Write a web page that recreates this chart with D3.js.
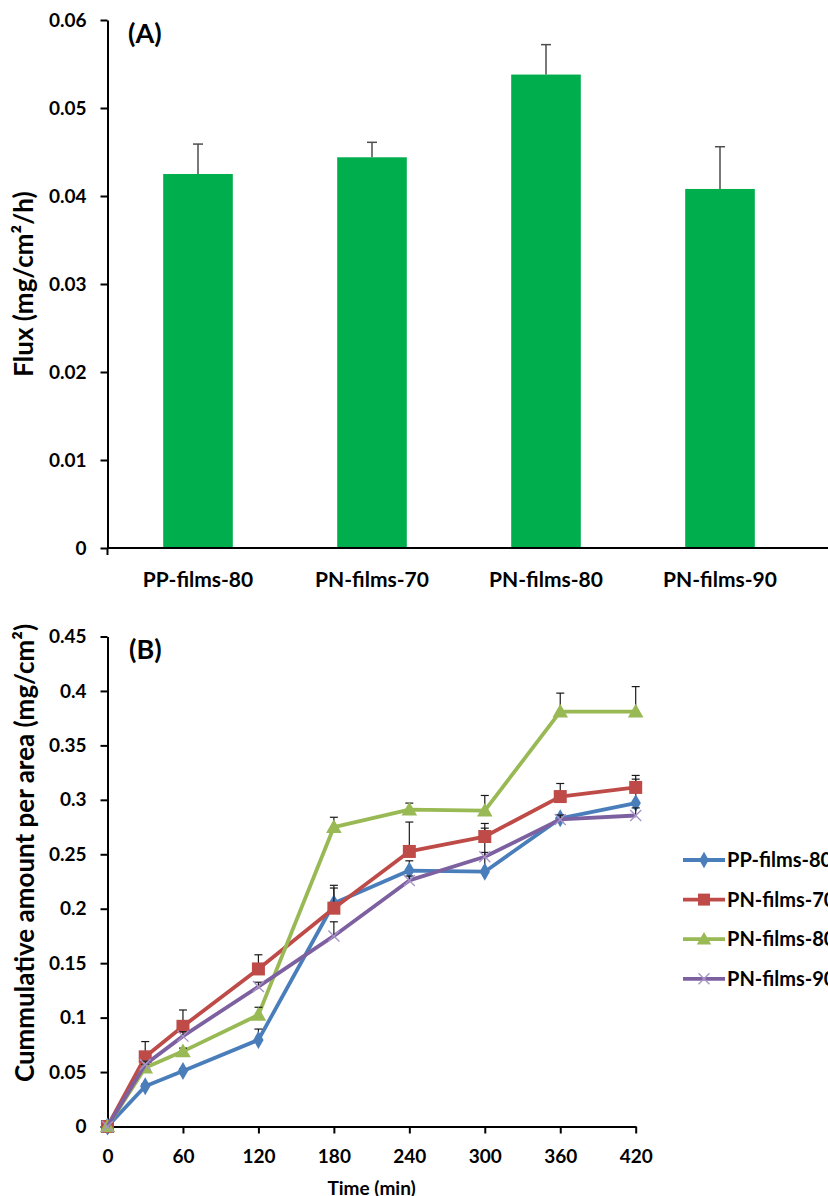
<!DOCTYPE html>
<html>
<head>
<meta charset="utf-8">
<script src="https://cdn.jsdelivr.net/npm/d3@7"></script>
<style>
  body { margin: 0; background: #fff; }
  svg { display: block; font-family: Lato, "Open Sans", sans-serif; font-weight: bold; }
</style>
</head>
<body>
<svg id="chart" width="828" height="1196"></svg>
<script>
// (A) flux bars
const FILMS = ["PP-films-80", "PN-films-70", "PN-films-80", "PN-films-90"]
const FLUX = [0.0425, 0.0444, 0.0538, 0.0408]
const FLUX_ERR = [0.0034, 0.0017, 0.0034, 0.0048]
const FLUX_TICKS = [0, 0.01, 0.02, 0.03, 0.04, 0.05, 0.06]

// (B) cumulative release
const TIMES = [0, 30, 60, 120, 180, 240, 300, 360, 420]
const TIME_TICKS = [0, 60, 120, 180, 240, 300, 360, 420]
const AMOUNT_TICKS = [0, 0.05, 0.1, 0.15, 0.2, 0.25, 0.3, 0.35, 0.4, 0.45]
const SERIES_NAMES = ["PP-films-80", "PN-films-70", "PN-films-80", "PN-films-90"]
const PP80 = [0, 0.037, 0.051, 0.0795, 0.205, 0.235, 0.234, 0.283, 0.297]
const PN70 = [0, 0.064, 0.092, 0.1447, 0.2005, 0.2526, 0.2663, 0.303, 0.3114]
const PN80 = [0, 0.054, 0.069, 0.1025, 0.275, 0.291, 0.290, 0.381, 0.381]
const PN90 = [0, 0.057, 0.083, 0.1285, 0.175, 0.226, 0.2477, 0.282, 0.2856]
const PP80_ERR = [0, 0.002, 0.002, 0.010, 0.014, 0.009, 0.040, 0.003, 0.022]
const PN70_ERR = [0, 0.014, 0.015, 0.013, 0.021, 0.027, 0.012, 0.012, 0.011]
const PN80_ERR = [0, 0.003, 0.003, 0.007, 0.009, 0.006, 0.014, 0.017, 0.023]
const PN90_ERR = [0, 0.003, 0.004, 0.004, 0.013, 0.004, 0.004, 0.004, 0.007]

const COLORS = ["#4a7ebb", "#be4b48", "#98b954", "#7d60a0"]
const SHAPES = ["diamond", "square", "triangle", "cross"]

const svg = d3.select("#chart");

// ---------- panel A ----------
const xA = d3.scaleBand().domain(FILMS).range([111, 807]).paddingInner(0.6).paddingOuter(0.3);
const yA = d3.scaleLinear().domain([0, 0.06]).range([548, 20]);

const gA = svg.append("g");

gA.selectAll("rect.bar").data(FILMS).join("rect")
  .attr("class", "bar")
  .attr("x", d => xA(d))
  .attr("width", xA.bandwidth())
  .attr("y", (d, i) => yA(FLUX[i]))
  .attr("height", (d, i) => yA(0) - yA(FLUX[i]))
  .attr("fill", "#00ae4d");

// error bars, upper only
const errA = gA.selectAll("g.err").data(FILMS).join("g").attr("class", "err")
  .attr("stroke", "#4d4d4d").attr("stroke-width", 1.5);
errA.append("line")
  .attr("x1", d => xA(d) + xA.bandwidth() / 2).attr("x2", d => xA(d) + xA.bandwidth() / 2)
  .attr("y1", (d, i) => yA(FLUX[i])).attr("y2", (d, i) => yA(FLUX[i] + FLUX_ERR[i]));
errA.append("line")
  .attr("x1", d => xA(d) + xA.bandwidth() / 2 - 5).attr("x2", d => xA(d) + xA.bandwidth() / 2 + 5)
  .attr("y1", (d, i) => yA(FLUX[i] + FLUX_ERR[i])).attr("y2", (d, i) => yA(FLUX[i] + FLUX_ERR[i]));

gA.append("g").attr("transform", "translate(107.5,0)")
  .call(d3.axisLeft(yA).tickValues(FLUX_TICKS).tickSize(7).tickPadding(14).tickSizeOuter(0)
    .tickFormat(d => d === 0 ? "0" : d.toFixed(2)));

const axisXA = gA.append("g").attr("class", "cat").attr("transform", "translate(0,548)")
  .call(d3.axisBottom(xA).tickSize(0).tickPadding(24));
axisXA.select(".domain").remove();
gA.append("line").attr("x1", 107.5).attr("x2", 828).attr("y1", 548).attr("y2", 548)
  .attr("stroke", "#000").attr("stroke-width", 2);
gA.append("line").attr("x1", 107.5).attr("x2", 107.5).attr("y1", 548).attr("y2", 555)
  .attr("stroke", "#000").attr("stroke-width", 2);

gA.append("text").attr("x", 128).attr("y", 43).attr("font-size", 27).text("(A)");
gA.append("text")
  .attr("transform", "translate(33,284) rotate(-90)")
  .attr("text-anchor", "middle").attr("font-size", 26)
  .text("Flux (mg/cm²/h)");

// ---------- panel B ----------
const xB = d3.scaleLinear().domain([0, 420]).range([107.5, 635.7]);
const yB = d3.scaleLinear().domain([0, 0.45]).range([1126.5, 636.5]);

const gB = svg.append("g");

gB.append("g").attr("transform", "translate(107.5,0)")
  .call(d3.axisLeft(yB).tickValues(AMOUNT_TICKS).tickSize(7).tickPadding(14).tickSizeOuter(0)
    .tickFormat(d => d === 0 ? "0" : d3.format("~g")(d)));
gB.append("g").attr("transform", "translate(0,1126.5)")
  .call(d3.axisBottom(xB).tickValues(TIME_TICKS).tickSize(7).tickPadding(16).tickSizeOuter(0));

const seriesVals = [PP80, PN70, PN80, PN90];
const seriesErr = [PP80_ERR, PN70_ERR, PN80_ERR, PN90_ERR];

const line = d3.line().x((d, i) => xB(TIMES[i])).y(d => yB(d));

function marker(g, shape, color, size) {
  if (shape === "diamond") {
    g.append("path").attr("d", d3.symbol(d3.symbolDiamond, size * size * 0.55)()).attr("fill", color);
  } else if (shape === "square") {
    g.append("rect").attr("x", -size / 2).attr("y", -size / 2).attr("width", size).attr("height", size).attr("fill", color);
  } else if (shape === "triangle") {
    g.append("path").attr("d", `M0,${-size * 0.6}L${size * 0.6},${size * 0.45}L${-size * 0.6},${size * 0.45}Z`).attr("fill", color);
  } else {
    const h = size / 2;
    g.append("path").attr("d", `M${-h},${-h}L${h},${h}M${-h},${h}L${h},${-h}`)
      .attr("stroke", "#a995c9").attr("stroke-width", 1.4).attr("fill", "none");
  }
}

seriesVals.forEach((vals, s) => {
  const gs = gB.append("g");
  const errs = seriesErr[s];
  const pts = vals.map((v, i) => ({ t: TIMES[i], v: v, e: errs[i] }));
  gs.append("path").datum(vals).attr("d", line)
    .attr("fill", "none").attr("stroke", COLORS[s]).attr("stroke-width", 3.8).attr("stroke-linejoin", "round");
  const eg = gs.selectAll("g.e").data(pts.filter(p => p.e > 0)).join("g").attr("class", "e")
    .attr("stroke", "#1a1a1a").attr("stroke-width", 1.2);
  eg.append("line")
    .attr("x1", p => xB(p.t)).attr("x2", p => xB(p.t))
    .attr("y1", p => yB(p.v)).attr("y2", p => yB(p.v + p.e));
  eg.append("line")
    .attr("x1", p => xB(p.t) - 4).attr("x2", p => xB(p.t) + 4)
    .attr("y1", p => yB(p.v + p.e)).attr("y2", p => yB(p.v + p.e));
  pts.forEach(p => {
    const m = gs.append("g").attr("transform", `translate(${xB(p.t)},${yB(p.v)})`);
    marker(m, SHAPES[s], COLORS[s], s === 3 ? 11 : 13);
  });
});

svg.selectAll(".domain").attr("stroke-width", 2);
svg.selectAll(".tick line").attr("stroke-width", 2);
svg.selectAll(".tick text").attr("font-size", 19).attr("fill", "#000")
  .attr("font-family", "Lato, sans-serif").attr("font-weight", "bold");
svg.selectAll(".cat .tick text").attr("font-size", 21);

gB.append("text").attr("x", 129).attr("y", 659).attr("font-size", 27).text("(B)");
gB.append("text")
  .attr("transform", "translate(34,853) rotate(-90)")
  .attr("text-anchor", "middle").attr("font-size", 26)
  .text("Cummulative amount per area (mg/cm²)");
gB.append("text").attr("x", xB(210)).attr("y", 1195).attr("text-anchor", "middle")
  .attr("font-size", 19).text("Time (min)");

// legend
const legend = gB.selectAll("g.leg").data(SERIES_NAMES).join("g").attr("class", "leg")
  .attr("transform", (d, i) => `translate(683,${860 + i * 39.6})`);
legend.append("line").attr("x1", 0).attr("x2", 42).attr("y1", 0).attr("y2", 0)
  .attr("stroke", (d, i) => COLORS[i]).attr("stroke-width", 3.8);
legend.each(function (d, i) {
  const m = d3.select(this).append("g").attr("transform", "translate(21,0)");
  marker(m, SHAPES[i], COLORS[i], i === 3 ? 11 : 12);
});
legend.append("text").attr("x", 44).attr("y", 7).attr("font-size", 20).text(d => d);
</script>
</body>
</html>
